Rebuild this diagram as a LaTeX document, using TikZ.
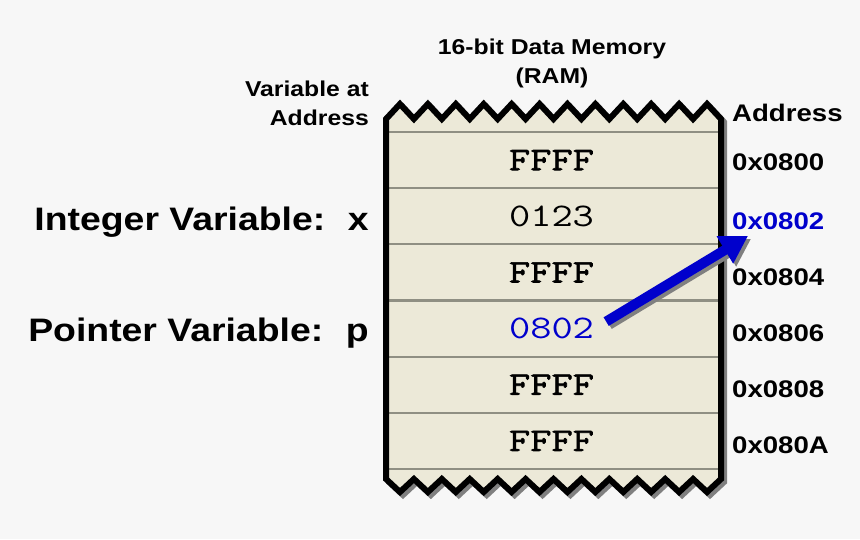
\documentclass[tikz,border=0pt]{standalone}
\usepackage{fontspec}
\setmainfont{Liberation Sans}[FakeStretch=1.15]
\newfontfamily\memfont{Latin Modern Mono}[FakeStretch=1.25, BoldFont={Latin Modern Mono}, BoldFeatures={FakeBold=2}]
\usetikzlibrary{arrows.meta}

\definecolor{pagegray}{HTML}{F7F7F7}
\definecolor{ramfill}{HTML}{ECE9D8}
\definecolor{rowline}{HTML}{8F8F83}
\definecolor{shadowgray}{HTML}{808080}
\definecolor{ptrblue}{HTML}{0000CC}

\tikzset{
    cell/.style={
        draw=rowline,
        line width=2pt,
        minimum width=335pt,
        minimum height=56.17pt,
        inner sep=0pt
    },
    value/.style={
        inner sep=0pt,
        inner xsep=12pt,
        font=\memfont\fontsize{33}{33}\selectfont
    },
    addr/.style={
        anchor=west,
        inner sep=0pt,
        font=\bfseries\fontsize{24}{24}\selectfont
    },
    varname/.style={
        anchor=base east,
        inner sep=0pt,
        font=\bfseries\fontsize{32.5}{32.5}\selectfont
    },
    caption/.style={
        inner sep=0pt,
        align=center,
        font=\bfseries\fontsize{21.5}{29}\selectfont
    },
    ptr/.style={
        line width=10pt,
        -{Triangle[length=27pt,width=30pt]}
    }
}

% zig-zag outline of the memory block
\newcommand{\ramoutline}{(386,119)
    \foreach \k in {1,...,24}{ -- ({386+\k*335/24},{111.5+7.5*cos(180*\k)}) }
    -- (721,479)
    \foreach \k in {23,...,0}{ -- ({386+\k*335/24},{485.5-6.5*cos(180*\k)}) }
    -- cycle}

\begin{document}
\begin{tikzpicture}[x=1pt,y=-1pt]
    \fill[pagegray] (0,0) rectangle (860,539);
    \useasboundingbox (0,0) rectangle (860,539);

    % memory block
    \draw[shadowgray, line width=6pt, line join=miter, transform canvas={xshift=3pt,yshift=-3pt}] \ramoutline;
    \fill[ramfill] \ramoutline;
    \path
        node[cell] at (553.5,160.1) (r0) {}
        node[cell] at (553.5,216.3) (r1) {}
        node[cell] at (553.5,272.4) (r2) {}
        node[cell] at (553.5,328.6) (r3) {}
        node[cell] at (553.5,384.8) (r4) {}
        node[cell] at (553.5,440.9) (r5) {}
        ;
    \draw[line width=6pt, line join=miter] \ramoutline;

    \path
        node[value] at (551.5,160.1) (v0) {\bfseries FFFF}
        node[value] at (551.5,216.3) (v1) {0123}
        node[value] at (551.5,272.4) (v2) {\bfseries FFFF}
        node[value, text=ptrblue] at (551.5,328.6) (v3) {0802}
        node[value] at (551.5,384.8) (v4) {\bfseries FFFF}
        node[value] at (551.5,440.9) (v5) {\bfseries FFFF}
        ;

    % addresses
    \path
        node[addr] at (732,113) (addrhead) {Address}
        node[addr] at (732,162) (a0) {0x0800}
        node[addr, text=ptrblue] at (732,221) (a1) {0x0802}
        node[addr] at (732,277) (a2) {0x0804}
        node[addr] at (732,333) (a3) {0x0806}
        node[addr] at (732,389) (a4) {0x0808}
        node[addr] at (732,445) (a5) {0x080A}
        ;

    % titles and variable names
    \node[caption] at (552,63) (title) {16-bit Data Memory\\(RAM)};
    \node[caption, align=right, anchor=east] at (369,103) (varhead) {Variable at\\Address};
    \node[varname] at (369,230) (intvar) {Integer Variable:\hspace{0.7em}x};
    \node[varname] at (369,341) (ptrvar) {Pointer Variable:\hspace{0.7em}p};

    % pointer arrow
    \coordinate (tip) at (748,236);
    \draw[ptr, shadowgray, transform canvas={xshift=3pt,yshift=-3pt}] ([yshift=7pt]v3.east) -- (tip);
    \draw[ptr, ptrblue] ([yshift=7pt]v3.east) -- (tip);
\end{tikzpicture}
\end{document}
